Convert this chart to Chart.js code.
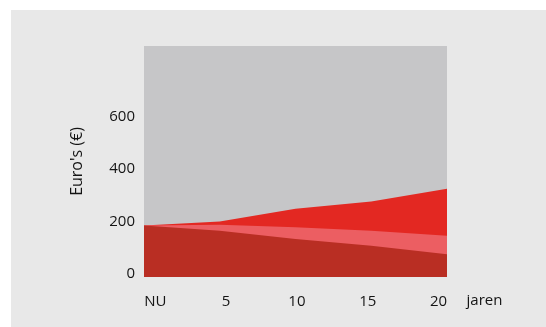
<!DOCTYPE html>
<html>
<head>
<meta charset="utf-8">
<script src="https://cdn.jsdelivr.net/npm/chart.js@4"></script>
<style>
body { margin:0; background:#ffffff; }
#panel { position:absolute; left:11px; top:10px; width:535px; height:317px; background:#e8e8e8; }
</style>
</head>
<body>
<div id="panel"><canvas id="areaChart"></canvas></div>
<script>

// ------------------------------
// Data
// ------------------------------

const years = [0, 5, 10, 15, 20];
const xLabels = ["NU", "5", "10", "15", "20"];
const yTicks = [0, 200, 400, 600];

// bright red (top), light red (middle), dark red (bottom)
const totalCost = [196, 211, 260, 288, 336];
const middleCost = [196, 199, 190, 176, 157];
const baseCost = [196, 176, 145, 119, 87];

const textColor = "#141414";
const fontFamily = "'Open Sans', sans-serif";

function points(values) {
    return values.map((v, i) => ({ x: years[i], y: v }));
}

// ------------------------------
// Plugins
// ------------------------------

const plotBackground = {
    id: "plotBackground",
    beforeDraw(chart) {
        const a = chart.chartArea;
        const ctx = chart.ctx;
        ctx.save();
        ctx.fillStyle = "#c6c6c8";
        ctx.fillRect(a.left, a.top, a.right - a.left, a.bottom - a.top);
        ctx.restore();
    }
};

const unitLabel = {
    id: "unitLabel",
    afterDraw(chart) {
        const scale = chart.scales.xLabels;
        const ctx = chart.ctx;
        ctx.save();
        ctx.font = "15px " + fontFamily;
        ctx.fillStyle = textColor;
        ctx.textAlign = "left";
        ctx.textBaseline = "middle";
        ctx.fillText("jaren", scale.getPixelForValue(years[years.length - 1]) + 28, 291);
        ctx.restore();
    }
};

// ------------------------------
// Area Chart
// ------------------------------

const areaChart = new Chart(

document.getElementById("areaChart"),

{

type: "line",

data: {

datasets: [

{
data: points(baseCost),
backgroundColor: "#b92e23",
fill: "origin"
},

{
data: points(middleCost),
backgroundColor: "#ec5e62",
fill: "origin"
},

{
data: points(totalCost),
backgroundColor: "#e32822",
fill: "origin"
}

]

},

options: {

responsive: true,
maintainAspectRatio: false,
animation: false,

layout: {
padding: { left: 0, top: 36, right: 99, bottom: 0 }
},

elements: {
line: { borderWidth: 0, tension: 0 },
point: { radius: 0 }
},

plugins: {
legend: { display: false },
tooltip: { enabled: false }
},

scales: {

x: {
type: "linear",
min: 0,
max: 20,
display: false
},

xLabels: {
type: "linear",
position: "bottom",
min: -0.8,
max: 20.6,
grid: { display: false, drawTicks: false },
border: { display: false },
afterBuildTicks: scale => {
    scale.ticks = years.map(v => ({ value: v }));
},
afterFit: scale => {
    scale.height = 50;
},
ticks: {
    autoSkip: false,
    maxRotation: 0,
    padding: 16,
    color: textColor,
    font: { family: fontFamily, size: 15 },
    callback: (value) => xLabels[years.indexOf(value)]
}
},

y: {
min: 0,
max: 880,
grid: { display: false, drawTicks: false },
border: { display: false },
afterBuildTicks: scale => {
    scale.ticks = yTicks.map(v => ({ value: v }));
},
afterFit: scale => {
    scale.width = 133;
},
ticks: {
    padding: 9,
    labelOffset: -3,
    color: textColor,
    font: { family: fontFamily, size: 15 }
},
title: {
    display: true,
    text: "Euro's (€)",
    color: textColor,
    padding: { top: 57, bottom: 0 },
    font: { family: fontFamily, size: 16 }
}
}

}

},

plugins: [plotBackground, unitLabel]

});

</script>
</body>
</html>
